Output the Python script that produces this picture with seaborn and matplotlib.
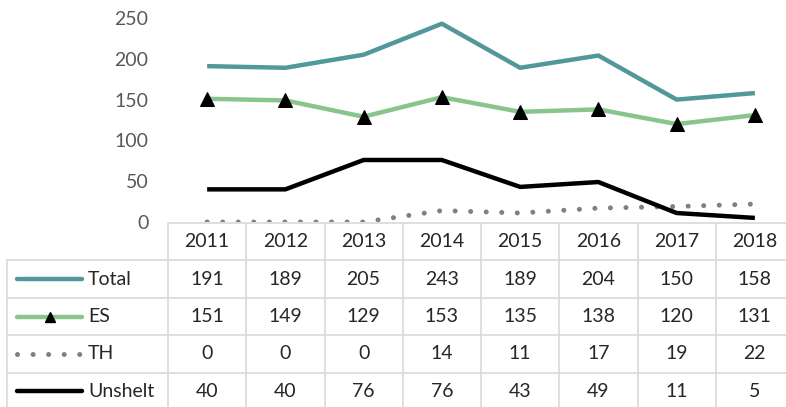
import matplotlib
matplotlib.use("Agg")
import matplotlib.pyplot as plt
import numpy as np
import pandas as pd
import seaborn as sns

years = ["2011", "2012", "2013", "2014", "2015", "2016", "2017", "2018"]
series_names = ["Total", "ES", "TH", "Unshelt"]
total = [191, 189, 205, 243, 189, 204, 150, 158]
es = [151, 149, 129, 153, 135, 138, 120, 131]
th = [0, 0, 0, 14, 11, 17, 19, 22]
unshelt = [40, 40, 76, 76, 43, 49, 11, 5]
y_ticks = [0, 50, 100, 150, 200, 250]

sns.set_theme(style="white")
plt.rcParams['font.family'] = ['Lato', 'DejaVu Sans']

FONT = 14
GRID = "#d9d9d9"
TXT = "#262626"

styles = {
    "Total": dict(color="#52989b", lw=3.2, ls="-", marker=None),
    "ES": dict(color="#88c48c", lw=3.2, ls="-", marker="^"),
    "TH": dict(color="#808080", lw=3.6, ls=(0, (0.01, 3.1)), marker=None),
    "Unshelt": dict(color="#000000", lw=3.2, ls="-", marker=None),
}

df = pd.DataFrame({"idx": np.arange(len(years)), "Total": total, "ES": es,
                   "TH": th, "Unshelt": unshelt})

W, H = 786, 407
fig = plt.figure(figsize=(W / 100, H / 100), dpi=100)

# main chart area (px coords converted to figure fractions)
x0, x1 = 168, 794
y_zero, y_top = 222, 18
ax = fig.add_axes([x0 / W, (H - y_zero) / H, (x1 - x0) / W, (y_zero - y_top) / H])

for name in series_names:
    st = styles[name]
    sns.lineplot(data=df, x="idx", y=name, ax=ax, color=st["color"],
                 linewidth=st["lw"], linestyle=st["ls"], legend=False,
                 marker=st["marker"], markersize=10, markerfacecolor="black",
                 markeredgecolor="black", dash_capstyle="round",
                 solid_capstyle="butt", zorder=3)

ax.set_xlim(-0.5, len(years) - 0.5)
ax.set_ylim(0, 250)
ax.set_yticks(y_ticks)
ax.set_yticklabels([str(v) for v in y_ticks], fontsize=FONT, color="#595959")
ax.tick_params(axis="y", length=0, pad=14)
ax.set_xticks([])
ax.set_xlabel("")
ax.set_ylabel("")
for s in ax.spines.values():
    s.set_visible(False)
ax.patch.set_alpha(0)

# data table below
unit = (x1 - x0) / len(years)
tl = 7
t_left = -0.5 - (x0 - tl) / unit
row_top, row_bot = 223, 410
tab = fig.add_axes([tl / W, (H - row_bot) / H, (x1 - tl) / W, (row_bot - row_top) / H])
tab.set_xlim(t_left, len(years) - 0.5)
tab.set_ylim(5, 0)
tab.axis("off")

for r in range(0, 6):
    xs = -0.5 if r == 0 else t_left
    tab.plot([xs, len(years) - 0.5], [r, r], color=GRID, lw=1.2, clip_on=False)
for c in range(len(years) + 1):
    tab.plot([c - 0.5, c - 0.5], [0, 5], color=GRID, lw=1.2, clip_on=False)
tab.plot([t_left, t_left], [1, 5], color=GRID, lw=1.2, clip_on=False)

for i, yr in enumerate(years):
    tab.text(i, 0.5, yr, ha="center", va="center", fontsize=FONT, color=TXT)

values = {"Total": total, "ES": es, "TH": th, "Unshelt": unshelt}
kx0 = t_left + 10 / unit
kx1 = t_left + 75 / unit
for r, name in enumerate(series_names, start=1):
    st = styles[name]
    tab.plot([kx0, kx1], [r + 0.5, r + 0.5], color=st["color"], lw=st["lw"],
             ls=st["ls"], dash_capstyle="round", solid_capstyle="round")
    if st["marker"]:
        tab.plot([(kx0 + kx1) / 2], [r + 0.5], marker="^", color="black",
                 markersize=7)
    tab.text(t_left + 81 / unit, r + 0.5, name, ha="left", va="center",
             fontsize=FONT, color=TXT)
    for i, v in enumerate(values[name]):
        tab.text(i, r + 0.5, str(v), ha="center", va="center",
                 fontsize=FONT, color=TXT)

fig.savefig("out.png", dpi=100)
